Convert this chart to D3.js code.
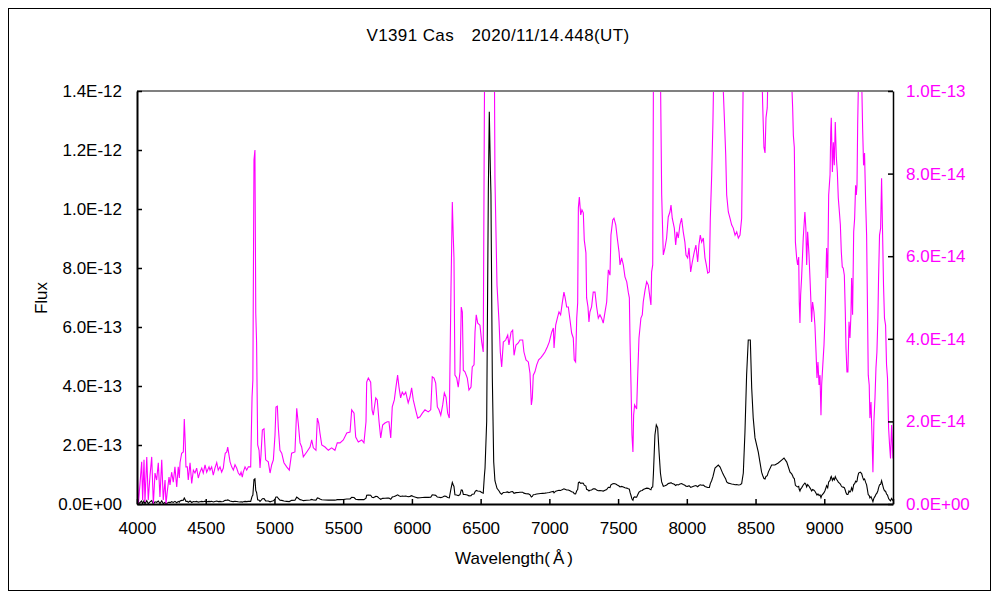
<!DOCTYPE html>
<html>
<head>
<meta charset="utf-8">
<script src="https://cdn.jsdelivr.net/npm/d3@7"></script>
<style>
  html, body { margin: 0; padding: 0; background: #fff; }
  svg { display: block; }
  text { font-family: "Liberation Sans", Arial, sans-serif; }
</style>
</head>
<body>
<svg id="chart" width="1000" height="600"></svg>
<script>
// ---- data (flux in units of 1e-14) ----
const titleText = "V1391 Cas\u30002020/11/14.448(UT)";
const xTicks = [4000, 4500, 5000, 5500, 6000, 6500, 7000, 7500, 8000, 8500, 9000, 9500];
const leftTicks = [0, 2e-13, 4e-13, 6e-13, 8e-13, 1.0e-12, 1.2e-12, 1.4e-12];
const rightTicks = [0, 2e-14, 4e-14, 6e-14, 8e-14, 1.0e-13];
const FLUX_UNIT = 1e-14;
const spectrum = [
  [4002,0.75],[4010,0.0],[4022,0.5],[4034,1.02],[4041,0.1],[4051,1.07],[4058,0.05],[4071,1.14],
  [4082,0.1],[4095,0.7],[4107,1.14],[4119,0.0],[4131,0.75],[4143,0.58],[4155,1.0],[4167,0.17],
  [4180,1.07],[4191,0.1],[4204,0.58],[4211,0.0],[4220,0.29],[4233,0.65],[4240,0.46],[4252,0.77],
  [4264,0.53],[4276,0.9],[4289,0.41],[4300,0.9],[4308,0.63],[4313,1.0],[4325,1.23],[4337,1.26],
  [4344,2.06],[4351,1.48],[4356,0.9],[4366,0.9],[4373,0.58],[4386,1.0],[4398,0.5],[4410,0.82],
  [4422,0.75],[4434,0.87],[4446,0.63],[4458,0.77],[4471,0.87],[4482,0.75],[4495,0.95],[4507,0.77],
  [4524,0.9],[4531,0.82],[4543,0.9],[4555,0.7],[4567,0.87],[4580,1.0],[4591,0.82],[4604,0.9],
  [4616,0.77],[4628,0.87],[4635,1.07],[4642,1.23],[4653,1.26],[4660,1.38],[4667,1.23],[4677,1.02],
  [4689,0.9],[4701,0.82],[4713,0.95],[4725,0.87],[4737,0.75],[4749,0.7],[4757,0.77],[4766,0.65],
  [4773,0.77],[4786,0.9],[4798,0.82],[4810,0.9],[4827,0.9],[4837,2.59],[4843,3.0],[4851,8.33],
  [4858,8.57],[4864,4.62],[4870,3.92],[4878,1.43],[4888,1.3],[4895,0.87],[4902,1.19],[4912,1.79],
  [4924,1.82],[4936,1.07],[4955,1.02],[4968,0.75],[4980,0.95],[4992,1.07],[5004,1.67],[5011,2.35],
  [5021,2.37],[5028,1.86],[5040,1.3],[5053,1.23],[5069,1.0],[5089,0.9],[5108,0.82],[5125,1.23],
  [5149,1.26],[5162,2.32],[5173,1.96],[5186,1.48],[5198,1.38],[5210,1.14],[5235,1.26],[5259,1.38],
  [5271,1.55],[5283,1.36],[5302,1.3],[5312,2.08],[5322,1.96],[5331,1.72],[5344,1.43],[5368,1.38],
  [5392,1.3],[5416,1.36],[5440,1.3],[5457,1.48],[5477,1.48],[5501,1.55],[5526,1.72],[5550,1.74],
  [5562,2.28],[5579,2.2],[5591,1.62],[5610,1.5],[5635,1.55],[5651,1.48],[5666,1.99],[5671,2.95],
  [5683,3.05],[5700,2.95],[5710,2.28],[5719,2.15],[5737,2.57],[5748,2.52],[5761,1.99],[5773,1.6],
  [5787,1.91],[5804,1.96],[5821,1.99],[5833,1.99],[5846,1.6],[5857,2.35],[5872,2.52],[5884,2.83],
  [5896,3.12],[5906,2.83],[5918,2.57],[5930,2.71],[5942,2.64],[5955,2.71],[5973,2.45],[5986,2.59],
  [5998,2.81],[6010,2.52],[6027,2.28],[6042,2.08],[6059,2.11],[6076,2.2],[6095,2.28],[6119,2.23],
  [6137,2.28],[6148,3.08],[6161,3.05],[6173,2.93],[6185,2.35],[6197,2.28],[6210,2.15],[6224,2.4],
  [6236,2.69],[6248,2.59],[6260,2.2],[6272,2.08],[6284,5.13],[6294,7.31],[6301,6.46],[6306,5.96],
  [6313,3.12],[6326,3.05],[6337,2.83],[6350,3.2],[6359,4.77],[6367,4.65],[6374,3.24],[6386,3.2],
  [6403,3.05],[6415,2.76],[6430,2.83],[6439,3.32],[6452,3.37],[6459,4.16],[6468,4.58],[6479,4.38],
  [6495,4.33],[6508,3.92],[6519,3.68],[6527,9.4],[6532,12.2],[6544,28.0],[6556,106],[6563,133],
  [6571,113],[6575,105],[6585,43],[6595,14.3],[6604,7.9],[6619,5.3],[6634,4.4],[6643,3.68],
  [6653,3.32],[6665,3.92],[6682,3.97],[6697,4.09],[6706,3.85],[6721,4.16],[6733,4.21],[6743,3.6],
  [6757,3.85],[6774,3.9],[6786,3.97],[6806,3.97],[6815,3.68],[6830,3.49],[6847,3.44],[6859,3.17],
  [6869,2.4],[6876,2.57],[6883,3.12],[6895,3.2],[6908,3.37],[6922,3.49],[6937,3.54],[6951,3.6],
  [6968,3.68],[6985,3.8],[6999,3.92],[7017,4.16],[7029,4.26],[7034,3.78],[7046,4.33],[7058,4.5],
  [7070,4.65],[7082,4.58],[7094,4.87],[7106,5.13],[7114,5.01],[7126,4.77],[7138,4.77],[7150,4.46],
  [7162,4.14],[7174,4.02],[7181,3.49],[7191,3.44],[7199,4.5],[7206,4.87],[7211,7.17],[7218,7.43],
  [7228,7.0],[7237,7.12],[7247,7.05],[7254,6.39],[7266,6.08],[7271,4.99],[7281,4.77],[7288,4.41],
  [7295,4.65],[7307,4.77],[7319,5.13],[7332,5.13],[7344,4.77],[7356,4.5],[7368,4.58],[7380,4.5],
  [7392,4.38],[7405,4.65],[7417,4.89],[7429,5.67],[7441,5.54],[7448,6.51],[7461,6.88],[7470,6.92],
  [7483,6.76],[7494,6.44],[7507,6.1],[7514,5.79],[7526,5.96],[7538,5.79],[7550,5.5],[7563,5.38],
  [7574,5.13],[7582,4.99],[7587,3.92],[7594,2.88],[7601,1.67],[7608,1.26],[7613,2.15],[7620,2.4],
  [7635,2.3],[7642,3.05],[7652,4.02],[7666,4.5],[7676,4.58],[7683,4.89],[7696,5.18],[7708,5.38],
  [7720,5.3],[7732,4.99],[7739,4.82],[7744,5.62],[7752,5.79],[7757,10.3],[7768,23.4],[7778,26.8],
  [7788,25.8],[7798,17.6],[7808,10.5],[7817,7.5],[7829,6.03],[7841,6.2],[7853,6.44],[7865,6.95],
  [7877,7.07],[7885,7.24],[7894,6.92],[7909,6.68],[7919,6.27],[7928,6.59],[7938,6.44],[7950,6.76],
  [7962,6.92],[7974,6.59],[7986,6.34],[7994,6.03],[8006,5.96],[8016,6.2],[8028,5.62],[8040,5.86],
  [8054,6.1],[8066,6.27],[8079,5.86],[8088,6.27],[8098,6.51],[8108,6.34],[8120,6.44],[8132,5.96],
  [8142,5.79],[8152,5.59],[8164,5.62],[8171,6.92],[8181,7.97],[8190,9.25],[8205,12.2],[8229,13.2],
  [8242,12.5],[8262,10.3],[8273,9.35],[8283,8.45],[8290,7.48],[8302,7.07],[8314,6.92],[8326,6.76],
  [8338,6.68],[8351,6.51],[8363,6.59],[8375,6.44],[8387,6.51],[8399,6.92],[8411,10.5],[8423,24.4],
  [8435,43.7],[8447,55.6],[8462,55.6],[8472,39.3],[8483,29.2],[8496,22.4],[8520,17.6],[8532,14.2],
  [8544,10.8],[8552,9.66],[8561,8.64],[8569,8.5],[8576,9.35],[8585,9.59],[8593,10.8],[8617,13.2],
  [8641,13.2],[8665,13.9],[8690,14.9],[8707,15.6],[8727,14.2],[8751,10.8],[8763,10.2],[8770,9.59],
  [8775,8.93],[8782,8.64],[8790,6.34],[8799,5.96],[8806,5.79],[8814,5.98],[8818,4.89],[8823,4.38],
  [8828,5.06],[8835,5.47],[8847,6.44],[8859,7.07],[8866,6.68],[8872,5.79],[8879,6.59],[8889,6.03],
  [8896,5.47],[8903,4.89],[8908,4.41],[8915,4.89],[8925,4.65],[8932,4.33],[8940,3.68],[8947,3.05],
  [8954,3.44],[8962,2.88],[8969,3.12],[8976,2.15],[8981,2.88],[8988,3.29],[8998,3.85],[9005,4.5],
  [9013,5.62],[9017,6.2],[9025,5.47],[9032,7.48],[9042,7.97],[9047,9.0],[9051,9.35],[9059,8.04],
  [9066,8.76],[9073,8.2],[9080,9.25],[9088,8.38],[9095,8.04],[9102,7.41],[9110,7.07],[9117,6.76],
  [9124,6.1],[9131,5.74],[9138,5.71],[9146,5.54],[9153,4.65],[9158,3.78],[9165,3.2],[9172,3.2],
  [9180,4.41],[9187,4.02],[9194,4.58],[9199,5.47],[9206,4.58],[9214,6.59],[9221,6.92],[9228,7.72],
  [9233,7.48],[9238,7.72],[9243,9.18],[9250,10.5],[9262,10.8],[9272,10.3],[9279,9.1],[9286,8.2],
  [9293,8.5],[9301,7.31],[9308,6.51],[9313,5.13],[9320,3.12],[9327,2.88],[9332,2.08],[9340,2.47],
  [9347,1.67],[9354,0.77],[9361,1.99],[9369,2.57],[9376,3.29],[9383,3.68],[9390,4.5],[9395,5.47],
  [9402,6.51],[9410,6.68],[9417,7.89],[9424,6.59],[9431,5.3],[9438,4.5],[9446,4.33],[9453,3.37],
  [9460,3.05],[9468,1.84],[9475,1.43],[9482,1.1],[9490,1.91],[9500,1.1]
];

// ---- layout ----
const plot = { left: 137, right: 893, top: 91, bottom: 504 };
const FS = 17;
const svg = d3.select("#chart");

const x = d3.scaleLinear().domain([4000, 9500]).range([plot.left, plot.right]);
const yL = d3.scaleLinear().domain([0, 1.4e-12]).range([plot.bottom, plot.top]);
const yR = d3.scaleLinear().domain([0, 1.0e-13]).range([plot.bottom, plot.top]);

function sci(v) {
  const s = v.toExponential(1);
  const [m, e] = s.split("e");
  const sign = e[0] === "-" ? "-" : "+";
  const digits = e.replace(/^[+-]/, "").padStart(2, "0");
  return m + "E" + sign + digits;
}

// outer border
svg.append("rect").attr("x", 8.5).attr("y", 8.5).attr("width", 982).attr("height", 582)
  .attr("fill", "none").attr("stroke", "#000").attr("stroke-width", 1);

// title
svg.append("text").attr("x", 498).attr("y", 35).attr("text-anchor", "middle")
  .attr("dominant-baseline", "central").attr("font-size", FS).attr("letter-spacing", 0.4)
  .attr("fill", "#000").text(titleText);

// clip
svg.append("clipPath").attr("id", "clip").append("rect")
  .attr("x", plot.left).attr("y", plot.top)
  .attr("width", plot.right - plot.left).attr("height", plot.bottom - plot.top);

const pts = spectrum.map(d => ({ w: d[0], f: d[1] * FLUX_UNIT }));

const g = svg.append("g").attr("clip-path", "url(#clip)");
g.append("path").datum(pts)
  .attr("fill", "none").attr("stroke", "#000").attr("stroke-width", 1.1)
  .attr("d", d3.line().x(d => x(d.w)).y(d => yL(d.f)));
g.append("path").datum(pts)
  .attr("fill", "none").attr("stroke", "#ff00ff").attr("stroke-width", 1.1)
  .attr("d", d3.line().x(d => x(d.w)).y(d => yR(d.f)));

// top border of plot (grey)
svg.append("line").attr("x1", plot.left).attr("x2", plot.right)
  .attr("y1", plot.top).attr("y2", plot.top)
  .attr("stroke", "#808080").attr("stroke-width", 2);

// axes
const axL = svg.append("g").attr("transform", `translate(${plot.left},0)`)
  .call(d3.axisLeft(yL).tickValues(leftTicks).tickFormat(sci).tickSizeInner(-5).tickSizeOuter(0).tickPadding(15));
const axR = svg.append("g").attr("transform", `translate(${plot.right},0)`)
  .call(d3.axisRight(yR).tickValues(rightTicks).tickFormat(sci).tickSizeInner(-5).tickSizeOuter(0).tickPadding(13));
const axB = svg.append("g").attr("transform", `translate(0,${plot.bottom})`)
  .call(d3.axisBottom(x).tickValues(xTicks).tickFormat(d3.format("d")).tickSizeInner(-5).tickSizeOuter(0).tickPadding(18));

[axL, axB].forEach(a => {
  a.select(".domain").attr("stroke", "#000").attr("stroke-width", 2);
  a.selectAll(".tick line").attr("stroke", "#000").attr("stroke-width", 1.5);
  a.selectAll("text").attr("font-size", FS).attr("fill", "#000")
    .attr("font-family", "Liberation Sans, Arial, sans-serif");
});
axR.select(".domain").attr("stroke", "#000").attr("stroke-width", 1.5);
axR.selectAll(".tick line").attr("stroke", "#000").attr("stroke-width", 1.5);
axR.selectAll("text").attr("font-size", FS).attr("fill", "#ff00ff")
  .attr("font-family", "Liberation Sans, Arial, sans-serif");

// axis titles
svg.append("text").attr("transform", "translate(41,298) rotate(-90)")
  .attr("text-anchor", "middle").attr("dominant-baseline", "central")
  .attr("font-size", FS).attr("fill", "#000").text("Flux");

const xt = svg.append("text").attr("x", 514).attr("y", 558).attr("text-anchor", "middle")
  .attr("dominant-baseline", "central").attr("font-size", FS).attr("fill", "#000");
xt.append("tspan").text("Wavelength(");
xt.append("tspan").attr("dx", 3).text("Å");
xt.append("tspan").attr("dx", 3).text(")");
</script>
</body>
</html>
